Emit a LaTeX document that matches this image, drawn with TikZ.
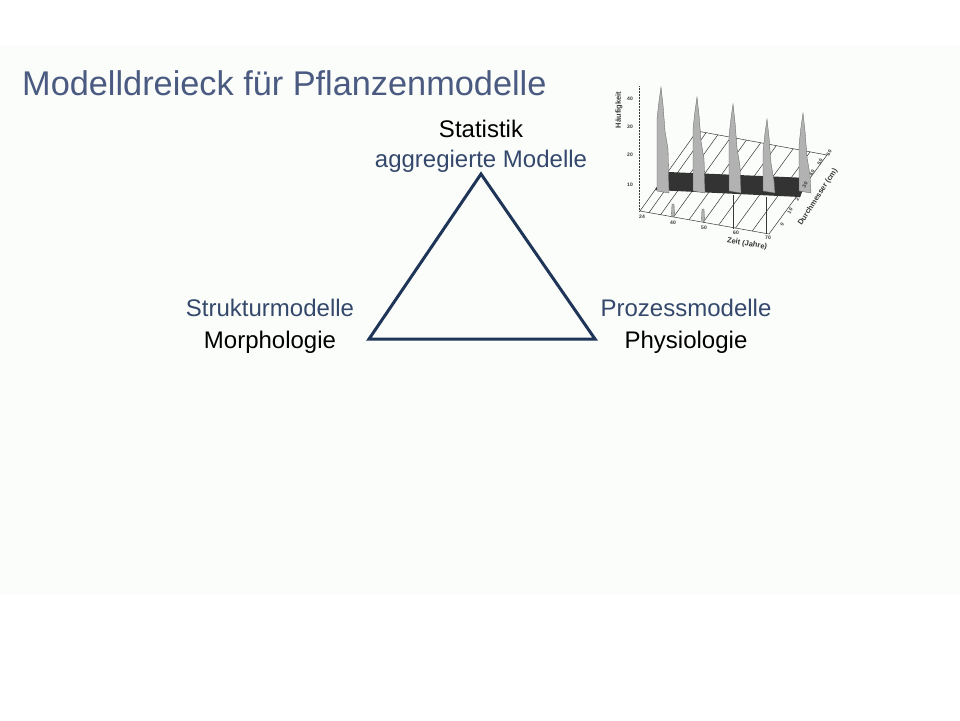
\documentclass[tikz,border=0pt]{standalone}
\usepackage{fontspec}
\setmainfont{Liberation Sans}
\usetikzlibrary{calc}
\definecolor{SlideBg}{RGB}{251,253,250}
\definecolor{TitleBlue}{RGB}{74,90,128}
\definecolor{LabelBlue}{RGB}{52,72,108}
\definecolor{TriNavy}{RGB}{30,53,88}
\definecolor{PlotInk}{RGB}{55,55,55}

\begin{document}
\begin{tikzpicture}[
  x=1pt,y=-1pt,
  lbl/.style={anchor=base,inner sep=0pt,font=\fontsize{24}{28}\selectfont},
  bluelbl/.style={lbl,text=LabelBlue},
  tri/.style={draw=TriNavy,line width=3pt},
  plotline/.style={draw=PlotInk,line width=0.5pt},
  plottick/.style={inner sep=0pt,text=PlotInk,font=\fontsize{5}{6}\selectfont\bfseries},
  axislbl/.style={inner sep=0pt,text=PlotInk,font=\fontsize{7.5}{8}\selectfont\bfseries},
  spike/.style={fill=black!30,draw=black!65,line width=0.3pt}
]
  \useasboundingbox (0,0) rectangle (960,720);
  \fill[SlideBg] (0,45) rectangle (960,595);

  % title
  \node[anchor=base west,inner sep=0pt,text=TitleBlue,
    font=\fontsize{34.3}{40}\selectfont] (title) at (22,95)
    {Modelldreieck für Pflanzenmodelle};

  % corner labels
  \node[lbl] (stat) at (481,137) {Statistik};
  \node[bluelbl] (aggr) at ([yshift=-30pt]stat.base) {aggregierte Modelle};
  \node[bluelbl] (struk) at (270,316) {Strukturmodelle};
  \node[lbl] (morph) at ([yshift=-32pt]struk.base) {Morphologie};
  \node[bluelbl] (proz) at (686,316) {Prozessmodelle};
  \node[lbl] (phys) at ([yshift=-32pt]proz.base) {Physiologie};

  % triangle
  \coordinate (apex) at (481,174);
  \coordinate (lcorner) at (369,339);
  \coordinate (rcorner) at (595,339);
  \draw[tri] (apex) -- (rcorner) -- (lcorner) -- cycle;

  % frequency plot
  \draw[plotline,densely dotted] (639,86) -- (639,211);
  \foreach \v/\y in {10/185,20/155,30/127,40/99}
    \node[plottick] at (630,\y) {\v};
  \node[axislbl,rotate=90] (freq) at (619,110) {Häufigkeit};

  \coordinate (fa) at (640,211);
  \coordinate (fb) at (769,234);
  \coordinate (fc) at (827,155);
  \coordinate (fd) at (697,131);
  \draw[plotline] (fa) -- (fb) -- (fc) -- (fd) -- cycle;
  \foreach \t in {0.07,0.16,0.26,0.38,0.49,0.61,0.74,0.87}
    \draw[plotline] ($(fa)!\t!(fb)$) -- ($(fd)!\t!(fc)$);

  \fill[black!80] (655,190) -- (668,172) -- (808,178) -- (800,197) -- cycle;

  \foreach \sx/\st in {661/87,697/97,733/104,767/119,803/113}
    \filldraw[spike] (\sx-4,191) -- (\sx-4,\st+32) -- (\sx-2,\st+14)
      -- (\sx,\st) -- (\sx+2,\st+18) -- (\sx+4,\st+44)
      -- (\sx+7,\st+62) -- (\sx+8,193) -- cycle;
  \draw[plotline,line width=0.8pt] (733,195) -- (733,229);
  \draw[plotline,line width=0.8pt] (766,197) -- (766,234);
  \foreach \sx/\sy in {673/216,703/221}
    \filldraw[spike] (\sx-1.5,\sy) -- (\sx-1,\sy-12) -- (\sx+1,\sy-12) -- (\sx+1.5,\sy) -- cycle;

  \foreach \lab/\x/\y in {24/642/217,40/673/223,50/704/228,60/736/233,70/768/238}
    \node[plottick] at (\x,\y) {\lab};
  \foreach \lab/\x/\y in {0/782/224,10/790/211,20/798/198,30/805/185,40/812/173,50/820/162,60/829/153}
    \node[plottick,rotate=60] at (\x,\y) {\lab};
  \node[axislbl,rotate=-10] (time) at (747,244) {Zeit (Jahre)};
  \node[axislbl,rotate=57] (diam) at (818,197) {Durchmesser (cm)};
\end{tikzpicture}
\end{document}
